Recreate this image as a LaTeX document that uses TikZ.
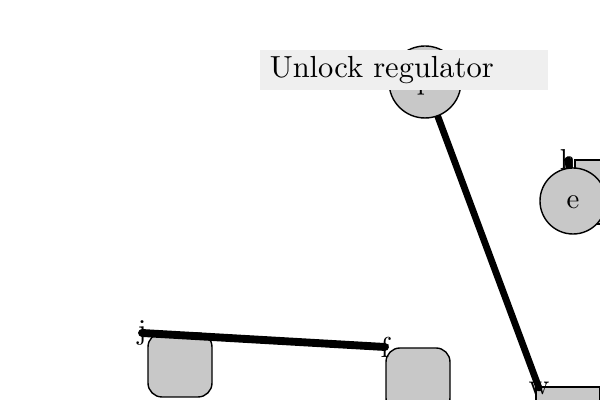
\documentclass[tikz,border=0pt]{standalone}
\usepackage{tikz}
\tikzset{
every picture/.style={
line width=1pt
}}
\definecolor{shapegray}{RGB}{200,200,200}
\definecolor{bannergray}{RGB}{239,239,239}

\begin{document}
\begin{tikzpicture}[
hub/.style = {circle, draw=black, fill=shapegray, inner sep=0pt, text height=1.5ex, text depth=.25ex, scale=2.05, transform shape},
stage/.style = {rectangle, rounded corners=0.35cm, draw=black, fill=shapegray, minimum size=1.6cm},
plate/.style = {rectangle, draw=black, fill=shapegray, minimum size=1.6cm},
tag/.style = {inner sep=0pt, scale=2.05, transform shape},
link/.style = {line width=4.8pt, line cap=round},
banner/.style = {rectangle, fill=bannergray, text width=3.09cm, inner xsep=0.115cm, inner ysep=0.07cm, minimum height=0.461cm, align=left, scale=2.17, transform shape}]
\useasboundingbox (0,0) rectangle (15,10);

\node[stage] at (4.5,0.875) (jbox) {};
\node[stage] at (10.45,0.5) (fbox) {};
\node[plate] at (14.2,-0.475) (wbox) {};
\node[plate] at (15.175,5.2) (hbox) {};

\node[tag] at (3.55,1.675) (j) {j};
\node[tag] at (9.625,1.325) (f) {f};
\node[tag] at (13.475,0.3) (w) {w};
\node[tag] at (14.2,6.0) (h) {h};

\coordinate (pc) at (10.625,7.95);
\coordinate (ec) at (14.325,4.975);

\draw[link, line width=5.6pt] (j.center) -- (f.center);
\draw[link] (pc) -- (w.center);
\draw[link] (h.center) -- (ec);

\node[hub, minimum size=0.878cm] at (pc) (p) {p};
\node[hub, minimum size=0.805cm] at (ec) (e) {e};

\node[banner] at (10.1,8.25) (title) {Unlock regulator};
\end{tikzpicture}
\end{document}
